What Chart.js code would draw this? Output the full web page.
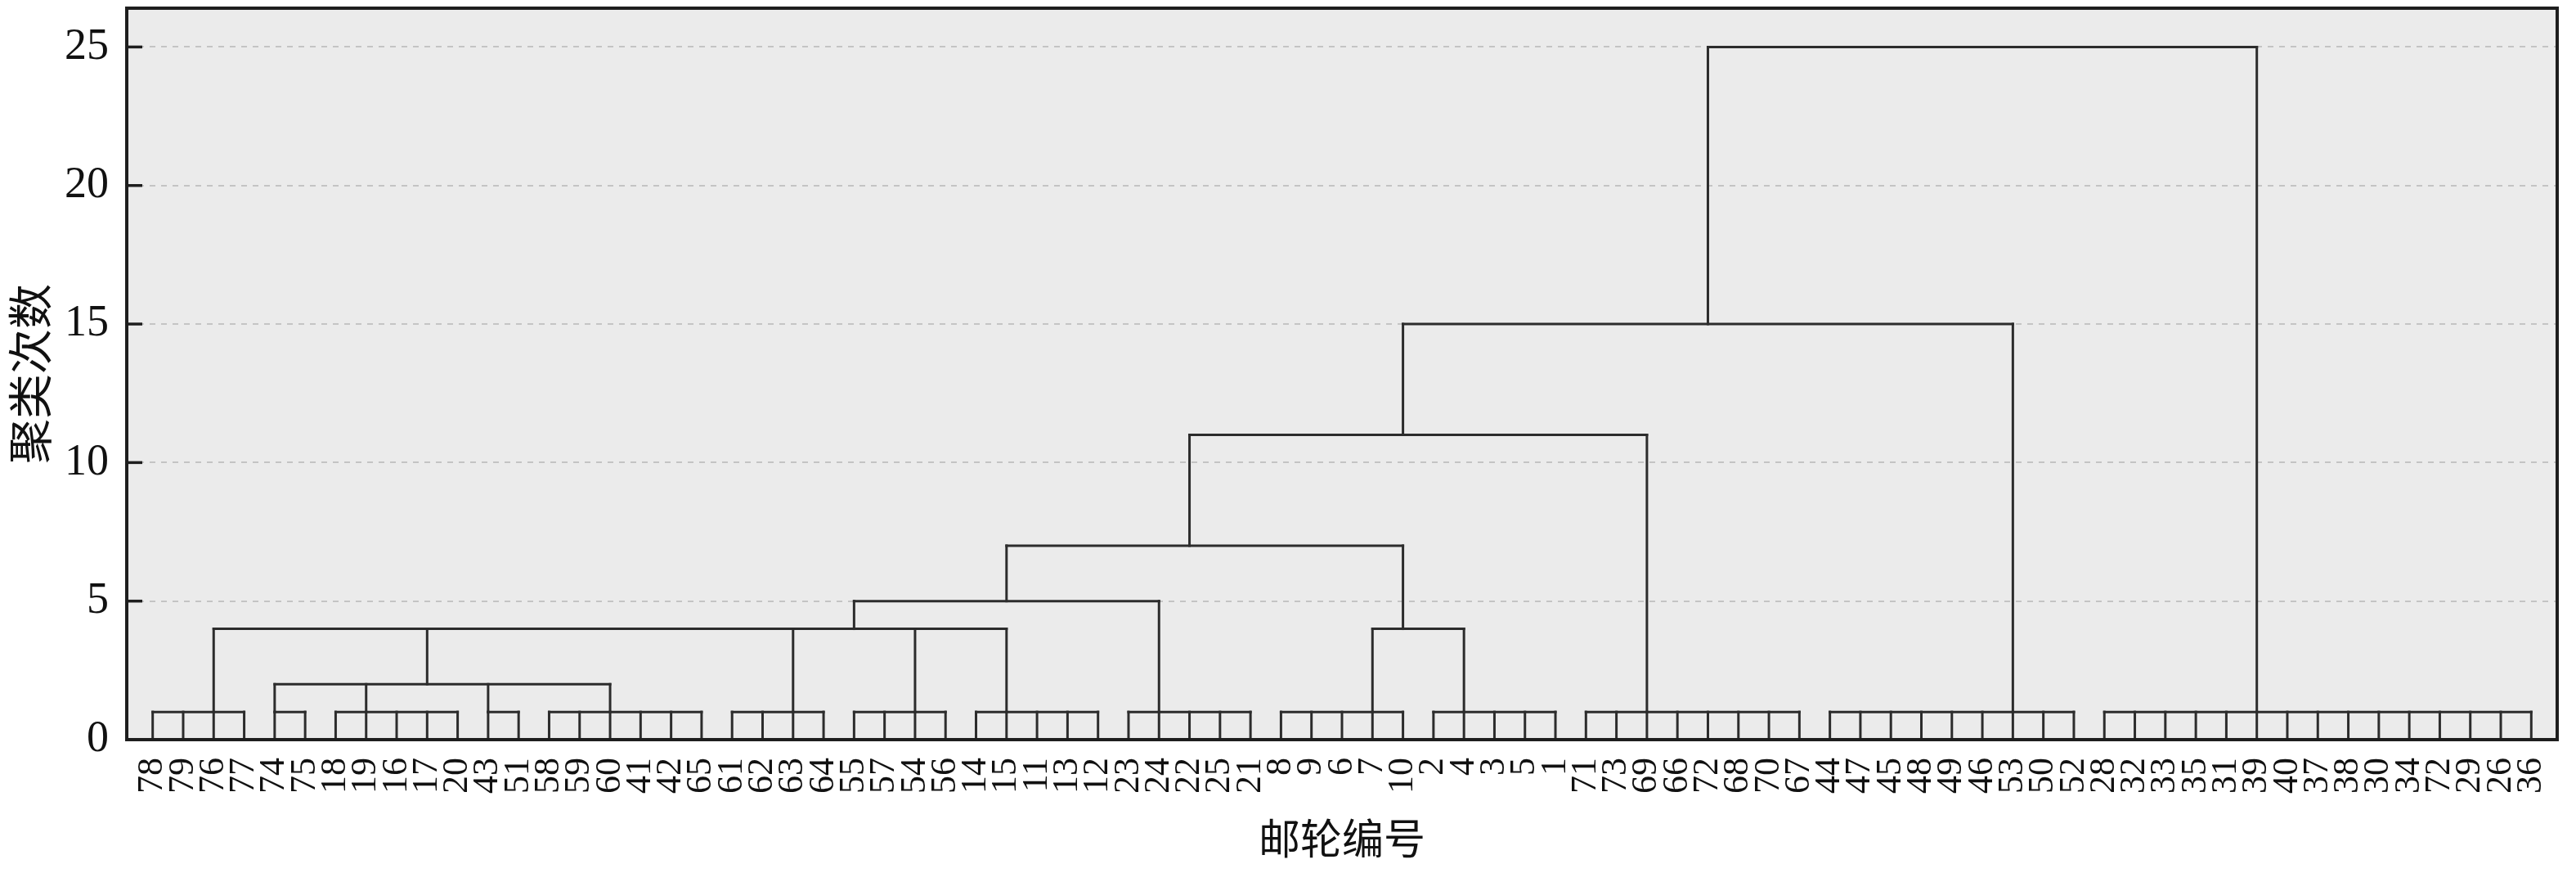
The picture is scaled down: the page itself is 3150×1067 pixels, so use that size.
<!DOCTYPE html>
<html>
<head>
<meta charset="utf-8">
<script src="https://cdn.jsdelivr.net/npm/chart.js@4.4.1/dist/chart.umd.min.js"></script>
<style>
html,body{margin:0;padding:0;background:#fff}
</style>
</head>
<body>
<canvas id="chart" width="3150" height="1067"></canvas>
<script>

// leaf order as printed under the axis
const leafLabels = [78,79,76,77,74,75,18,19,16,17,20,43,51,58,59,60,41,42,65,61,62,63,64,55,57,54,56,14,15,11,13,12,23,24,22,25,21,8,9,6,7,10,2,4,3,5,1,71,73,69,66,72,68,70,67,44,47,45,48,49,46,53,50,52,28,32,33,35,31,39,40,37,38,30,34,72,29,26,36]

// first clustering step: [first leaf, last leaf, stem leaf, stem top]
const firstGroups = [
[1,4,3,4],[5,6,5,2],[7,11,8,2],[12,13,12,2],[14,19,16,2],
[20,23,22,4],[24,27,26,4],[28,32,29,4],[33,37,34,5],
[38,42,41,4],[43,47,44,4],[48,55,50,11],[56,64,62,15],[65,79,70,25]
]

// later merges: [height, from leaf, to leaf]
const merges = [
[2,5,16],[4,3,29],[4,41,44],[5,24,34],[7,29,42],[11,35,50],[15,42,62],[25,52,70]
]

// stems rising from a merge: [leaf, from height, to height]
const stems = [
[10,2,4],[24,4,5],[29,5,7],[42,4,7],[35,7,11],[42,11,15],[52,15,25]
]

const yTicks = [0,5,10,15,20,25]

const lineColor="#2c2c2c"

const segments=[]

function seg(x1,y1,x2,y2){
segments.push([{x:x1,y:y1},{x:x2,y:y2}])
}

firstGroups.forEach(g=>{
for(let i=g[0];i<=g[1];i++) seg(i,0,i,1)
seg(g[0],1,g[1],1)
seg(g[2],1,g[2],g[3])
})

merges.forEach(m=>seg(m[1],m[0],m[2],m[0]))

stems.forEach(s=>seg(s[0],s[1],s[0],s[2]))

const datasets = segments.map(d=>({
data:d,
showLine:true,
borderColor:lineColor,
borderWidth:3,
borderCapStyle:"square",
pointRadius:0,
tension:0
}))

/* ======================
   PLOT FRAME + INNER TICKS
====================== */

const framePlugin={
id:"frame",
beforeDraw(chart){
const a=chart.chartArea
const c=chart.ctx
c.save()
c.fillStyle="#ebebeb"
c.fillRect(a.left,a.top,a.right-a.left,a.bottom-a.top)
c.restore()
},
afterDraw(chart){
const a=chart.chartArea
const c=chart.ctx
const y=chart.scales.y
c.save()
c.strokeStyle="#1e1e1e"
c.lineWidth=3.5
yTicks.forEach(v=>{
const p=y.getPixelForValue(v)
c.beginPath()
c.moveTo(a.left,p)
c.lineTo(a.left+19,p)
c.stroke()
})
c.lineWidth=4
c.strokeRect(a.left,a.top,a.right-a.left,a.bottom-a.top)
c.restore()
}
}

const serif='"Liberation Serif","Noto Sans CJK SC",serif'

new Chart(document.getElementById("chart"),{

type:"scatter",

data:{datasets:datasets},

options:{

responsive:false,
animation:false,
events:[],

layout:{padding:{top:10,right:23,left:0,bottom:0}},

plugins:{
legend:{display:false},
tooltip:{enabled:false}
},

scales:{

x:{
type:"linear",
min:0.15,
max:79.85,
afterBuildTicks:s=>{ s.ticks=leafLabels.map((_,i)=>({value:i+1})) },
afterFit:s=>{ s.height=163; s.paddingLeft=0; s.paddingRight=0 },
grid:{display:false,drawTicks:false},
border:{display:false},
ticks:{
autoSkip:false,
minRotation:90,
maxRotation:90,
padding:22,
color:"#111",
font:{family:serif,size:44},
callback:(v,i)=>String(leafLabels[i])
},
title:{
display:true,
text:"邮轮编号",
color:"#111",
font:{family:serif,size:51},
padding:{top:0,bottom:6}
}
},

y:{
min:0,
max:26.4,
afterBuildTicks:s=>{ s.ticks=yTicks.map(v=>({value:v})) },
afterFit:s=>{ s.width=155; s.paddingTop=0; s.paddingBottom=0 },
grid:{color:"#c4c4c4",lineWidth:2,drawTicks:false},
border:{display:false,dash:[7,7]},
ticks:{
padding:22,
color:"#111",
font:{family:serif,size:54}
},
title:{
display:true,
text:"聚类次数",
color:"#111",
font:{family:serif,size:55},
padding:{top:10,bottom:0}
}
}

}

},

plugins:[framePlugin]

})

</script>
</body>
</html>
